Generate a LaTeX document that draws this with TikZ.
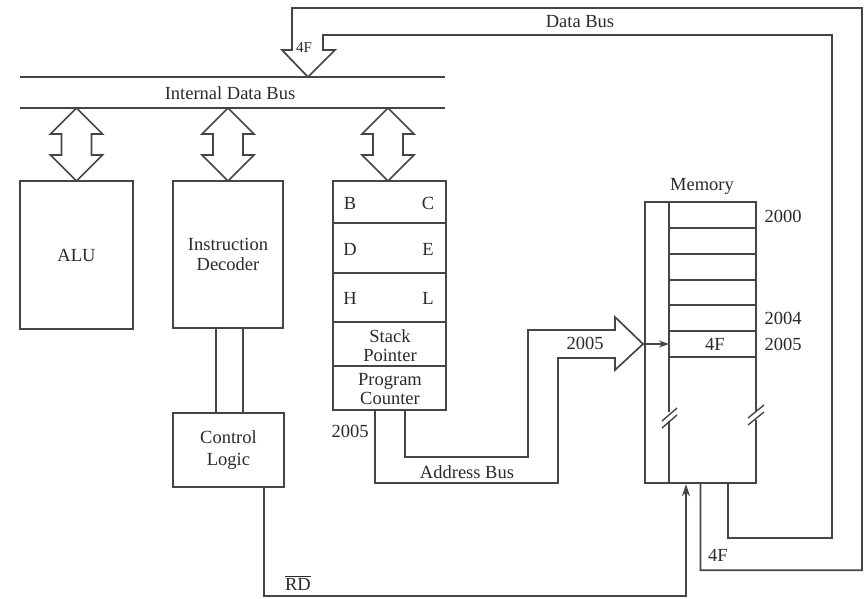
\documentclass[tikz,border=0pt]{standalone}
\usepackage{fontspec}
\setmainfont{Liberation Serif}
\usetikzlibrary{arrows.meta}
\definecolor{ink}{HTML}{454545}
\definecolor{txt}{HTML}{2A2A2A}
\begin{document}
\begin{tikzpicture}[x=1pt,y=-1pt,
  box/.style={draw=ink, line width=2.4pt, inner sep=0pt, fill=white, text=txt,
              font=\fontsize{18.5}{21}\selectfont, align=center},
  wire/.style={draw=ink, line width=1.7pt, line join=miter},
  thin/.style={draw=ink, line width=1.4pt},
  lbl/.style={text=txt, font=\fontsize{18.5}{21}\selectfont, inner sep=0pt, align=center},
  sml/.style={text=txt, font=\fontsize{15}{17}\selectfont, inner sep=0pt},
  dblarrow/.pic={\draw[wire] (0,0) -- (26,26) -- (15,26) -- (15,47) -- (26,47)
        -- (0,73) -- (-26,47) -- (-15,47) -- (-15,26) -- (-26,26) -- cycle;}]
\useasboundingbox (0,0) rectangle (867,598);

% internal data bus
\coordinate (ibA1) at (20,77);  \coordinate (ibA2) at (445,77);
\coordinate (ibB1) at (20,108); \coordinate (ibB2) at (445,108);
\draw[wire] (ibA1) -- (ibA2);
\draw[wire] (ibB1) -- (ibB2);
\node[lbl] (iblabel) at (230,93) {Internal Data Bus};

% blocks
\node[box, minimum width=113pt, minimum height=148pt] (alu) at (76.5,255) {ALU};
\node[box, minimum width=110pt, minimum height=147pt] (dec) at (228,254.5) {Instruction\\[-1pt]Decoder};
\node[box, minimum width=111pt, minimum height=74pt] (ctl) at (228.5,450) {Control\\[1pt]Logic};
\node[box, minimum width=113pt, minimum height=229pt] (reg) at (389.5,295.5) {};
\node[box, minimum width=111pt, minimum height=281pt] (mem) at (700.5,342.5) {};

% bus arrows
\pic at (alu.north |- ibB1) {dblarrow};
\pic at (dec.north |- ibB1) {dblarrow};
\pic at ([xshift=-1.5pt]reg.north |- ibB1) {dblarrow};

% register file
\foreach \yy in {223,273,322,366} \draw[thin] (333,\yy) -- (446,\yy);
\node[lbl] (rB) at (350,203) {B};
\node[lbl] (rC) at (428,203) {C};
\node[lbl] (rD) at (350,249) {D};
\node[lbl] (rE) at (428,249) {E};
\node[lbl] (rH) at (350,298) {H};
\node[lbl] (rL) at (428,298) {L};
\node[lbl] (rSP) at (390,346) {Stack\\[-2pt]Pointer};
\node[lbl] (rPC) at (390,389) {Program\\[-2pt]Counter};
\node[lbl] (pcval) at (350,431) {2005};

% decoder to control logic
\draw[wire] ([xshift=-12pt]dec.south) -- ([xshift=-12pt]dec.south |- ctl.north);
\draw[wire] ([xshift=15pt]dec.south) -- ([xshift=15pt]dec.south |- ctl.north);

% memory internals
\coordinate (mtop) at (669,202);
\coordinate (mbot) at (669,483);
\draw[thin] (mtop) -- (669,412);
\draw[thin] (669,421) -- (mbot);
\foreach \yy in {228,254,280,305,331,357} \draw[thin] (669,\yy) -- (756,\yy);
\fill[white] (753,411) rectangle (759,420);
\draw[thin] (662,421) -- (677,408);
\draw[thin] (662,428) -- (677,415);
\draw[thin] (748,418) -- (764,405);
\draw[thin] (748,425) -- (764,412);
\node[lbl] (memlabel) at (702,186) {Memory};
\node[lbl] (a2000) at (783,216) {2000};
\node[lbl] (a2004) at (783,318) {2004};
\node[lbl] (a2005) at (783,344) {2005};
\node[lbl] (v4F) at (715,344) {4F};

% address bus
\coordinate (adtip) at (643,344);
\draw[wire] ([xshift=-14.5pt]reg.south) |- (558,483) |- (615,358) -- (615,370)
   -- (adtip) -- (615,317) -- (615,330) -| (528,457) -| ([xshift=15.5pt]reg.south);
\draw[thin, -{Stealth[length=10pt,width=7pt]}] (adtip) -- (mtop |- adtip);
\node[lbl] (adlabel) at (585,343) {2005};
\node[lbl] (abus) at (467,472) {Address Bus};

% RD control line
\coordinate (rdc) at (686,596);
\draw[wire, -{Stealth[length=12pt,width=8pt]}] ([xshift=35.5pt]ctl.south) |- (rdc)
   -- ([xshift=-14.5pt]mem.south);
\node[lbl] (rd) at (298,583) {$\overline{\mbox{RD}}$};

% data bus
\coordinate (dbtip) at (308,77);
\draw[wire] (mem.south) -- ++(0,86) -| (862,8) -| (292,50) -- (282,50) -- (dbtip)
   -- (335,50) -- (323,50) |- (832,35) |- (728,538) -- ([xshift=27.5pt]mem.south);
\node[lbl] (dblabel) at (580,22) {Data Bus};
\node[sml] (db4F) at (304,48) {4F};
\node[lbl] (mem4F) at (718,555) {4F};
\end{tikzpicture}
\end{document}
